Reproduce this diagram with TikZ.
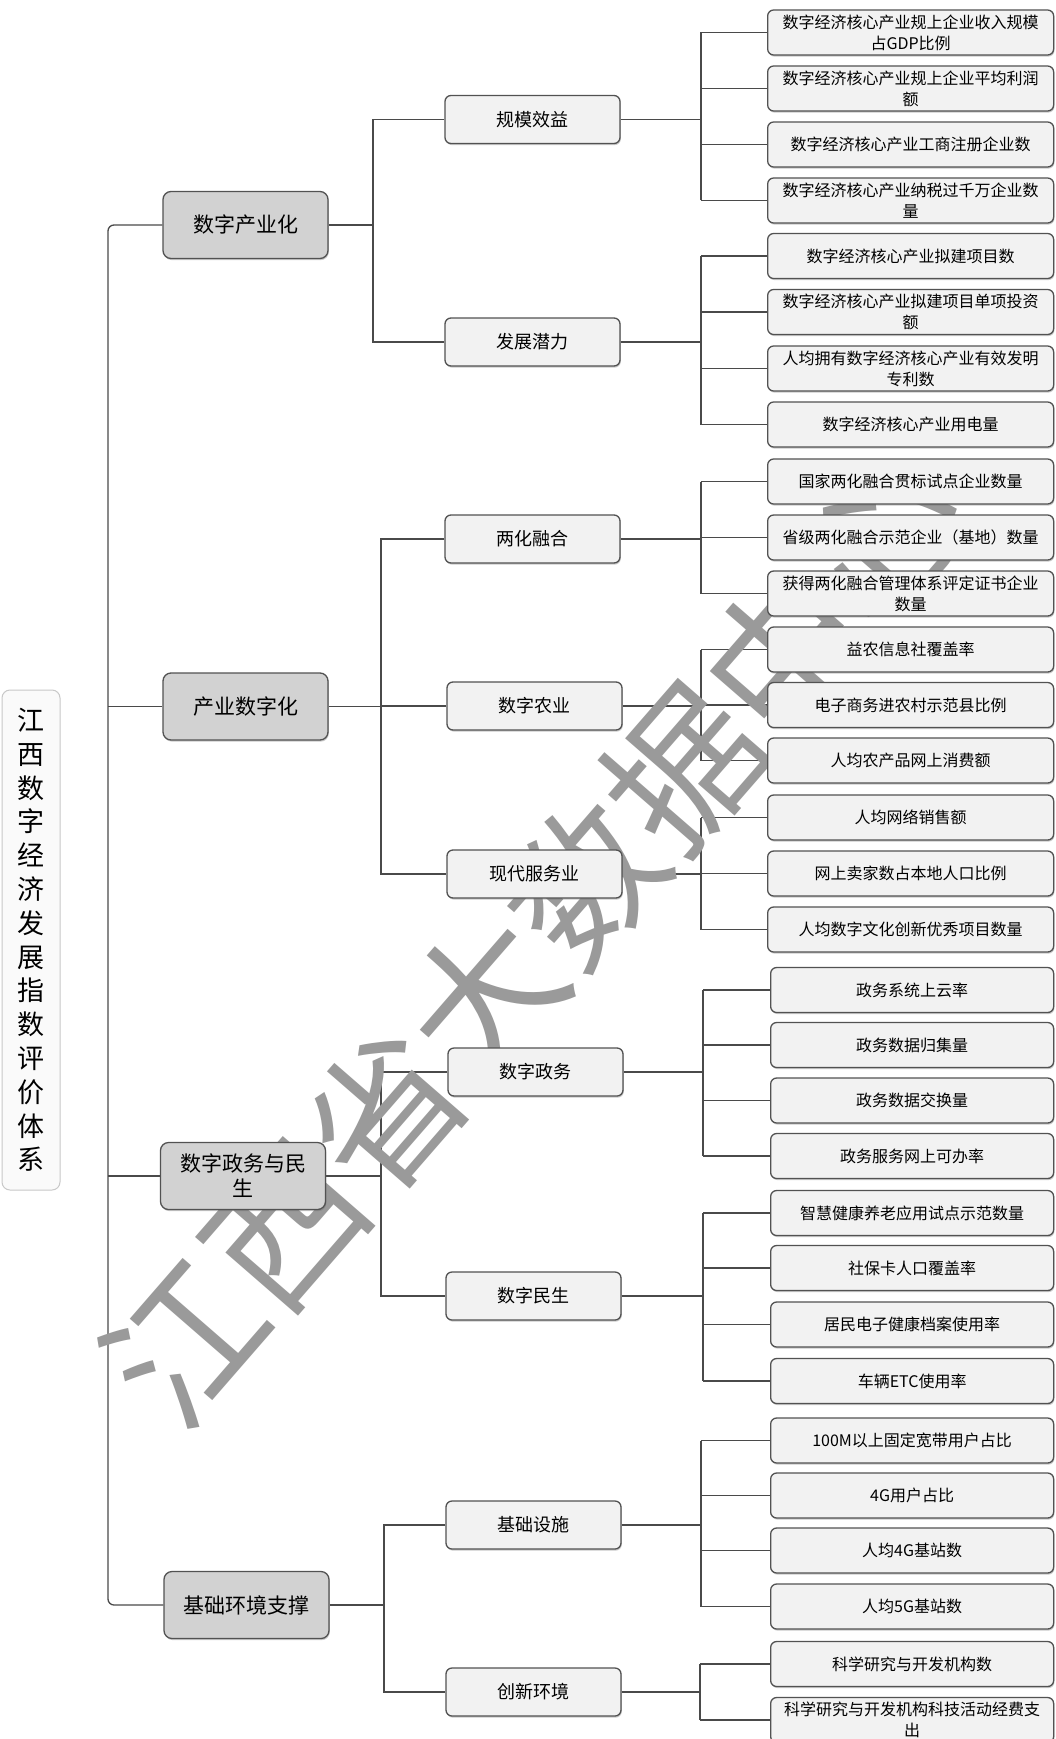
\documentclass[tikz,border=0pt]{standalone}
\usepackage{fontspec}
\setmainfont{Noto Sans CJK SC}
\usetikzlibrary{shadows}
\pgfdeclarelayer{bg}
\pgfdeclarelayer{lines}
\pgfdeclarelayer{wm}
\pgfsetlayers{bg,lines,wm,main}
\definecolor{linec}{HTML}{4A4A4A}
\definecolor{boxbd}{HTML}{525252}
\definecolor{leaffill}{HTML}{F2F2F2}
\definecolor{topfill}{HTML}{D2D2D2}
\definecolor{titlebd}{HTML}{C8C8C8}
\definecolor{titlefill}{HTML}{FAFAFA}
\definecolor{wmc}{HTML}{9A9A9A}
\tikzset{
  conn/.style={draw=linec, line width=1.3pt},
  basebox/.style={draw=boxbd, line width=1.3pt, rounded corners=6pt, align=center, inner sep=0pt,
    drop shadow={shadow xshift=0.8pt, shadow yshift=-1.6pt, opacity=0.35, fill=black!60}},
  leafbox/.style={basebox, fill=leaffill, anchor=west, minimum height=45pt,
    font=\fontsize{16}{21}\selectfont},
  leafA/.style={leafbox, minimum width=286pt},
  leafB/.style={leafbox, minimum width=283pt},
  midbox/.style={basebox, fill=leaffill, minimum width=175pt, minimum height=48pt,
    font=\fontsize{18}{22}\selectfont},
  topbox/.style={basebox, fill=topfill, rounded corners=8pt, minimum width=165pt, minimum height=67pt,
    font=\fontsize{21}{25}\selectfont},
  titlebox/.style={draw=titlebd, fill=titlefill, line width=1pt, rounded corners=8pt, align=center,
    minimum width=58pt, minimum height=500pt, inner sep=0pt, font=\fontsize{27}{33.8}\selectfont},
  wmark/.style={text=wmc, font=\fontsize{152}{152}\selectfont, inner sep=0pt}
}
\begin{document}
\begin{tikzpicture}[x=1pt,y=-1pt]
\useasboundingbox (0,0) rectangle (1055,1739);
\begin{pgfonlayer}{bg}
\fill[white] (0,0) rectangle (1055,1739);
\end{pgfonlayer}

% title
\node[titlebox] (title) at (31,940) {江\\西\\数\\字\\经\\济\\发\\展\\指\\数\\评\\价\\体\\系};

% level 1
\node[topbox] (l1) at (245.5,225) {数字产业化};
\node[topbox] (l2) at (245.5,706.5) {产业数字化};
\node[topbox] (l3) at (243,1176) {数字政务与民\\生};
\node[topbox] (l4) at (246.5,1605) {基础环境支撑};

% level 2
\node[midbox] (m1) at (532.5,119.5) {规模效益};
\node[midbox] (m2) at (532.5,342) {发展潜力};
\node[midbox] (m3) at (532.5,539) {两化融合};
\node[midbox] (m4) at (534.5,706) {数字农业};
\node[midbox] (m5) at (534.5,874) {现代服务业};
\node[midbox] (m6) at (535.5,1072) {数字政务};
\node[midbox] (m7) at (533.5,1296) {数字民生};
\node[midbox] (m8) at (533.5,1525) {基础设施};
\node[midbox] (m9) at (533.5,1692) {创新环境};

% leaves
\node[leafA] (f1) at (767,32.5) {数字经济核心产业规上企业收入规模\\占GDP比例};
\node[leafA] (f2) at (767,88.5) {数字经济核心产业规上企业平均利润\\额};
\node[leafA] (f3) at (767,144.5) {数字经济核心产业工商注册企业数};
\node[leafA] (f4) at (767,200.5) {数字经济核心产业纳税过千万企业数\\量};
\node[leafA] (f5) at (767,256) {数字经济核心产业拟建项目数};
\node[leafA] (f6) at (767,312) {数字经济核心产业拟建项目单项投资\\额};
\node[leafA] (f7) at (767,368.5) {人均拥有数字经济核心产业有效发明\\专利数};
\node[leafA] (f8) at (767,424.5) {数字经济核心产业用电量};
\node[leafA] (f9) at (767,481.5) {国家两化融合贯标试点企业数量};
\node[leafA] (f10) at (767,537.5) {省级两化融合示范企业（基地）数量};
\node[leafA] (f11) at (767,593.5) {获得两化融合管理体系评定证书企业\\数量};
\node[leafA] (f12) at (767,649.5) {益农信息社覆盖率};
\node[leafA] (f13) at (767,705) {电子商务进农村示范县比例};
\node[leafA] (f14) at (767,760.5) {人均农产品网上消费额};
\node[leafA] (f15) at (767,817.5) {人均网络销售额};
\node[leafA] (f16) at (767,873.5) {网上卖家数占本地人口比例};
\node[leafA] (f17) at (767,929.5) {人均数字文化创新优秀项目数量};
\node[leafB] (f18) at (770,990) {政务系统上云率};
\node[leafB] (f19) at (770,1045) {政务数据归集量};
\node[leafB] (f20) at (770,1100.5) {政务数据交换量};
\node[leafB] (f21) at (770,1156) {政务服务网上可办率};
\node[leafB] (f22) at (770,1213) {智慧健康养老应用试点示范数量};
\node[leafB] (f23) at (770,1268) {社保卡人口覆盖率};
\node[leafB] (f24) at (770,1324.5) {居民电子健康档案使用率};
\node[leafB] (f25) at (770,1381) {车辆ETC使用率};
\node[leafB] (f26) at (770,1440.5) {100M以上固定宽带用户占比};
\node[leafB] (f27) at (770,1495.5) {4G用户占比};
\node[leafB] (f28) at (770,1550.5) {人均4G基站数};
\node[leafB] (f29) at (770,1606.5) {人均5G基站数};
\node[leafB] (f30) at (770,1664) {科学研究与开发机构数};
\node[leafB] (f31) at (770,1720) {科学研究与开发机构科技活动经费支\\出};

% bus coordinates
\coordinate (tr) at (108,0);
\coordinate (ba) at (373,0);
\coordinate (bb) at (381,0);
\coordinate (bc) at (384,0);
\coordinate (ca) at (701,0);
\coordinate (cb) at (703,0);
\coordinate (cc) at (700,0);

\begin{pgfonlayer}{lines}
% trunk
\draw[conn, rounded corners=6pt] (l1.west) -- (l1.west -| tr) |- (l4.west);
\draw[conn] (l2.west) -- (l2.west -| tr);
\draw[conn] (l3.west) -- (l3.west -| tr);

% level1 -> level2
\draw[conn] (l1.east) -- (l1.east -| ba);
\draw[conn] (m1.west) -- (m1.west -| ba) -- (m2.west -| ba) -- (m2.west);
\draw[conn] (l2.east) -- (l2.east -| bb);
\draw[conn] (m3.west) -- (m3.west -| bb) -- (m5.west -| bb) -- (m5.west);
\draw[conn] (m4.west) -- (m4.west -| bb);
\draw[conn] (l3.east) -- (l3.east -| bb);
\draw[conn] (m6.west) -- (m6.west -| bb) -- (m7.west -| bb) -- (m7.west);
\draw[conn] (l4.east) -- (l4.east -| bc);
\draw[conn] (m8.west) -- (m8.west -| bc) -- (m9.west -| bc) -- (m9.west);

% level2 -> leaves
\foreach \m/\a/\b/\c in {m1/1/4/ca, m2/5/8/ca, m3/9/11/ca, m4/12/14/ca, m5/15/17/ca,
                         m6/18/21/cb, m7/22/25/cb, m8/26/29/ca, m9/30/31/cc}{
  \draw[conn] (\m.east) -- (\m.east -| \c);
  \draw[conn] (f\a.west -| \c) -- (f\b.west -| \c);
  \foreach \i in {\a,...,\b}{
    \draw[conn] (f\i.west -| \c) -- (f\i.west);
  }
}
\end{pgfonlayer}

% watermark (behind boxes, over connectors)
\begin{pgfonlayer}{wm}
\node[wmark, rotate=49] (wm) at (534,940) {江西省大数据中心};
\end{pgfonlayer}
\end{tikzpicture}
\end{document}
